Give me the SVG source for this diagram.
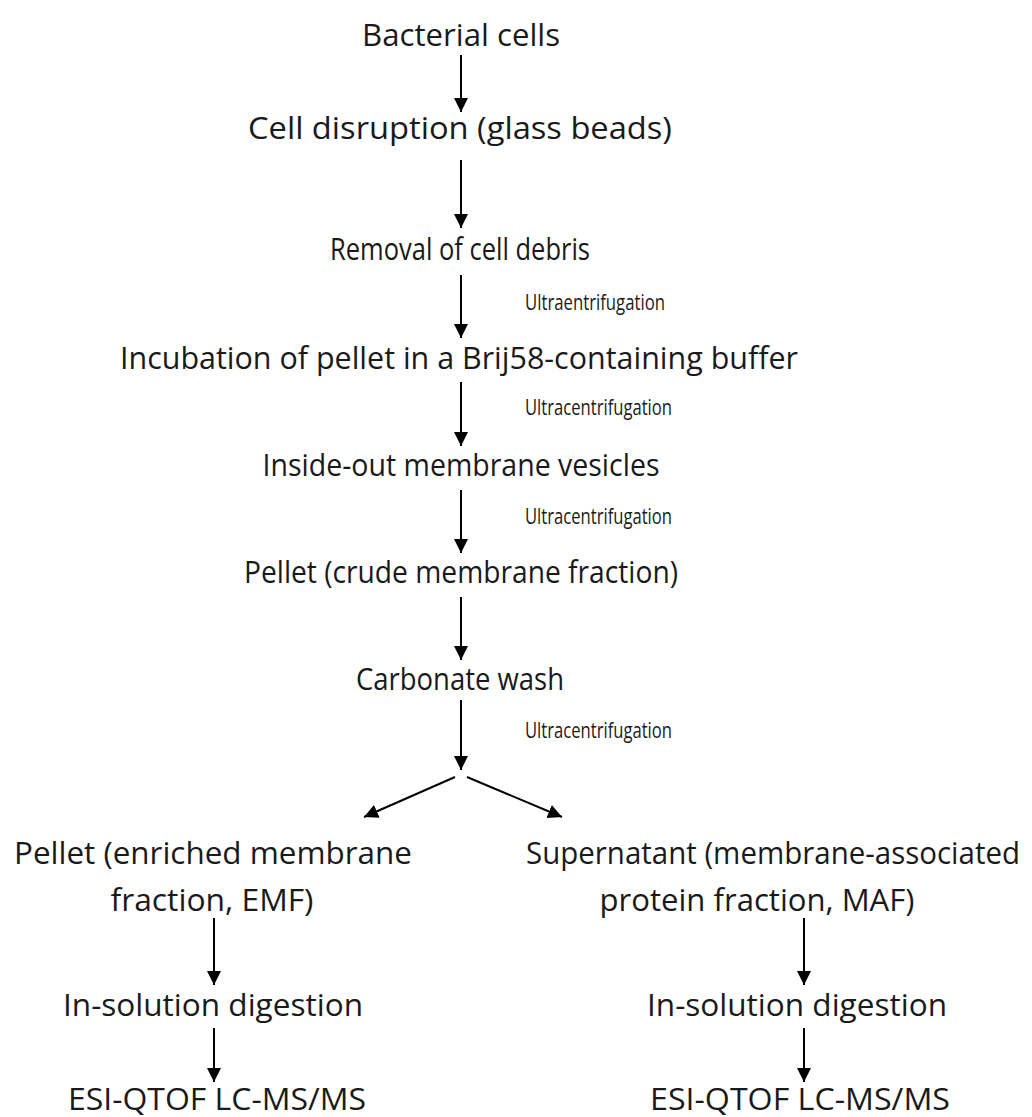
<svg xmlns="http://www.w3.org/2000/svg" width="1032" height="1117" viewBox="0 0 1032 1117">
<style>
.t{font-family:"Open Sans","Liberation Sans",sans-serif;font-size:31px;fill:#1a1a1a;text-anchor:middle}
.l{font-family:"Open Sans","Liberation Sans",sans-serif;font-size:21px;fill:#1a1a1a}
.c line{stroke:#000;stroke-width:2}
</style>
<defs>
<marker id="ah" viewBox="0 0 10 10" refX="10" refY="5" markerWidth="14" markerHeight="14" markerUnits="userSpaceOnUse" orient="auto">
<path d="M0,0 L10,5 L0,10 z" fill="#000"/>
</marker>
</defs>
<rect width="1032" height="1117" fill="#fff"/>
<g id="n1"><text class="t" x="461" y="46" textLength="198" lengthAdjust="spacingAndGlyphs">Bacterial cells</text></g>
<g id="n2"><text class="t" x="460" y="139" textLength="424" lengthAdjust="spacingAndGlyphs">Cell disruption (glass beads)</text></g>
<g id="n3"><text class="t" x="460" y="260" textLength="260" lengthAdjust="spacingAndGlyphs">Removal of cell debris</text></g>
<g id="n4"><text class="t" x="459" y="369" textLength="678" lengthAdjust="spacingAndGlyphs">Incubation of pellet in a Brij58-containing buffer</text></g>
<g id="n5"><text class="t" x="461" y="476" textLength="397" lengthAdjust="spacingAndGlyphs">Inside-out membrane vesicles</text></g>
<g id="n6"><text class="t" x="461" y="583" textLength="434" lengthAdjust="spacingAndGlyphs">Pellet (crude membrane fraction)</text></g>
<g id="n7"><text class="t" x="460" y="690" textLength="208" lengthAdjust="spacingAndGlyphs">Carbonate wash</text></g>
<g id="n8"><text class="t" x="213" y="864" textLength="398" lengthAdjust="spacingAndGlyphs">Pellet (enriched membrane</text><text class="t" x="212" y="911" textLength="203" lengthAdjust="spacingAndGlyphs">fraction, EMF)</text></g>
<g id="n9"><text class="t" x="773" y="864" textLength="494" lengthAdjust="spacingAndGlyphs">Supernatant (membrane-associated</text><text class="t" x="757" y="911" textLength="315" lengthAdjust="spacingAndGlyphs">protein fraction, MAF)</text></g>
<g id="n10"><text class="t" x="213" y="1016" textLength="300" lengthAdjust="spacingAndGlyphs">In-solution digestion</text></g>
<g id="n11"><text class="t" x="797" y="1016" textLength="300" lengthAdjust="spacingAndGlyphs">In-solution digestion</text></g>
<g id="n12"><text class="t" x="217" y="1110" textLength="298" lengthAdjust="spacingAndGlyphs">ESI-QTOF LC-MS/MS</text></g>
<g id="n13"><text class="t" x="800" y="1110" textLength="300" lengthAdjust="spacingAndGlyphs">ESI-QTOF LC-MS/MS</text></g>
<g id="labels">
<text class="l" x="525" y="310" textLength="140" lengthAdjust="spacingAndGlyphs">Ultraentrifugation</text>
<text class="l" x="525" y="415" textLength="147" lengthAdjust="spacingAndGlyphs">Ultracentrifugation</text>
<text class="l" x="525" y="524" textLength="147" lengthAdjust="spacingAndGlyphs">Ultracentrifugation</text>
<text class="l" x="525" y="738" textLength="147" lengthAdjust="spacingAndGlyphs">Ultracentrifugation</text>
</g>
<g id="connectors" class="c">
<line x1="461" y1="55" x2="461" y2="112" marker-end="url(#ah)"/>
<line x1="461" y1="160" x2="461" y2="228" marker-end="url(#ah)"/>
<line x1="461" y1="275" x2="461" y2="338" marker-end="url(#ah)"/>
<line x1="461" y1="382" x2="461" y2="446" marker-end="url(#ah)"/>
<line x1="461" y1="490" x2="461" y2="553" marker-end="url(#ah)"/>
<line x1="461" y1="597" x2="461" y2="660" marker-end="url(#ah)"/>
<line x1="461" y1="700" x2="461" y2="770" marker-end="url(#ah)"/>
<line x1="455" y1="777" x2="364" y2="817" marker-end="url(#ah)"/>
<line x1="467" y1="777" x2="562" y2="817" marker-end="url(#ah)"/>
<line x1="214" y1="918" x2="214" y2="985" marker-end="url(#ah)"/>
<line x1="214" y1="1028" x2="214" y2="1082" marker-end="url(#ah)"/>
<line x1="804" y1="918" x2="804" y2="985" marker-end="url(#ah)"/>
<line x1="804" y1="1028" x2="804" y2="1082" marker-end="url(#ah)"/>
</g>
</svg>
